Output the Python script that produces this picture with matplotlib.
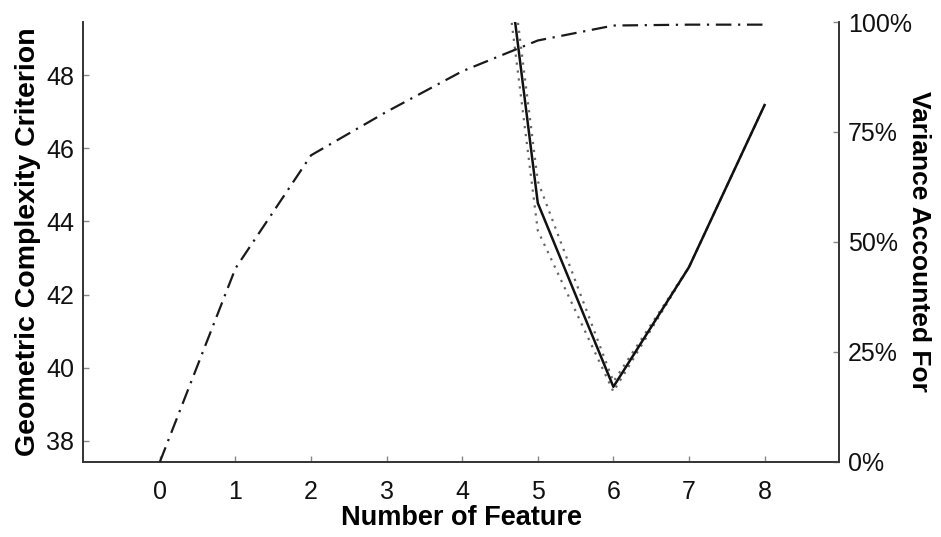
import matplotlib
matplotlib.use('Agg')
import matplotlib.pyplot as plt
from matplotlib.ticker import FuncFormatter

plt.rcParams['font.family'] = ['Liberation Sans', 'DejaVu Sans']

# ── Data ──────────────────────────────────────────────────────────────────────
features     = [0, 1, 2, 3, 4, 5, 6, 7, 8]
variance_pct = [0.0, 44.0, 69.7, 79.6, 88.8, 95.8, 99.2, 99.4, 99.4]

gcc_x     = [4, 5, 6, 7, 8]
gcc       = [61.0, 44.5, 39.48, 42.75, 47.18]
gcc_lower = [60.2, 43.75, 39.35, 42.75, 47.18]
gcc_upper = [61.6, 45.10, 39.62, 42.75, 47.18]

left_ticks  = [38, 40, 42, 44, 46, 48]
right_ticks = [0, 25, 50, 75, 100]

AXIS_COL = "#333333"
TICK_COL = "#888888"

fig = plt.figure(figsize=(9.41, 5.37), dpi=100, facecolor='white')
ax = fig.add_axes([0.088, 0.140, 0.804, 0.819])
ax2 = ax.twinx()

# ── Left axis: complexity criterion ───────────────────────────────────────────
ax.plot(gcc_x, gcc_lower, color="#666666", lw=1.6, linestyle=(0, (1, 2.6)), zorder=3)
ax.plot(gcc_x, gcc_upper, color="#666666", lw=1.6, linestyle=(0, (1, 2.6)), zorder=3)
ax.plot(gcc_x, gcc, color="#111111", lw=1.8, zorder=4)

ax.set_xlim(-1.02, 8.99)
ax.set_ylim(37.43, 49.45)
ax.set_xticks(features)
ax.set_yticks(left_ticks)

# ── Right axis: variance accounted for ────────────────────────────────────────
ax2.plot(features, variance_pct, color="#1a1a1a", lw=1.6,
         linestyle=(0, (7, 3, 1, 3)), zorder=3)
ax2.set_ylim(0, 100)
ax2.set_yticks(right_ticks)
ax2.yaxis.set_major_formatter(FuncFormatter(lambda v, p: f"{int(v)}%"))

# ── Styling ───────────────────────────────────────────────────────────────────
for a in (ax, ax2):
    a.spines['top'].set_visible(False)
    for s in ('left', 'right', 'bottom'):
        a.spines[s].set_color(AXIS_COL)
        a.spines[s].set_linewidth(1.2)
    a.tick_params(direction='in', length=4, width=1, color=TICK_COL,
                  labelsize=18, labelcolor="#111111", pad=6)
ax.tick_params(axis='x', pad=13)

ax.set_xlabel("Number of Feature", fontsize=19.5, fontweight='bold', labelpad=1)
ax.set_ylabel("Geometric Complexity Criterion", fontsize=20.5, fontweight='bold', labelpad=4)
ax2.set_ylabel("Variance Accounted For", fontsize=19, fontweight='bold',
               rotation=270, labelpad=14)

plt.savefig("out.png", dpi=100, facecolor='white')
plt.close()
